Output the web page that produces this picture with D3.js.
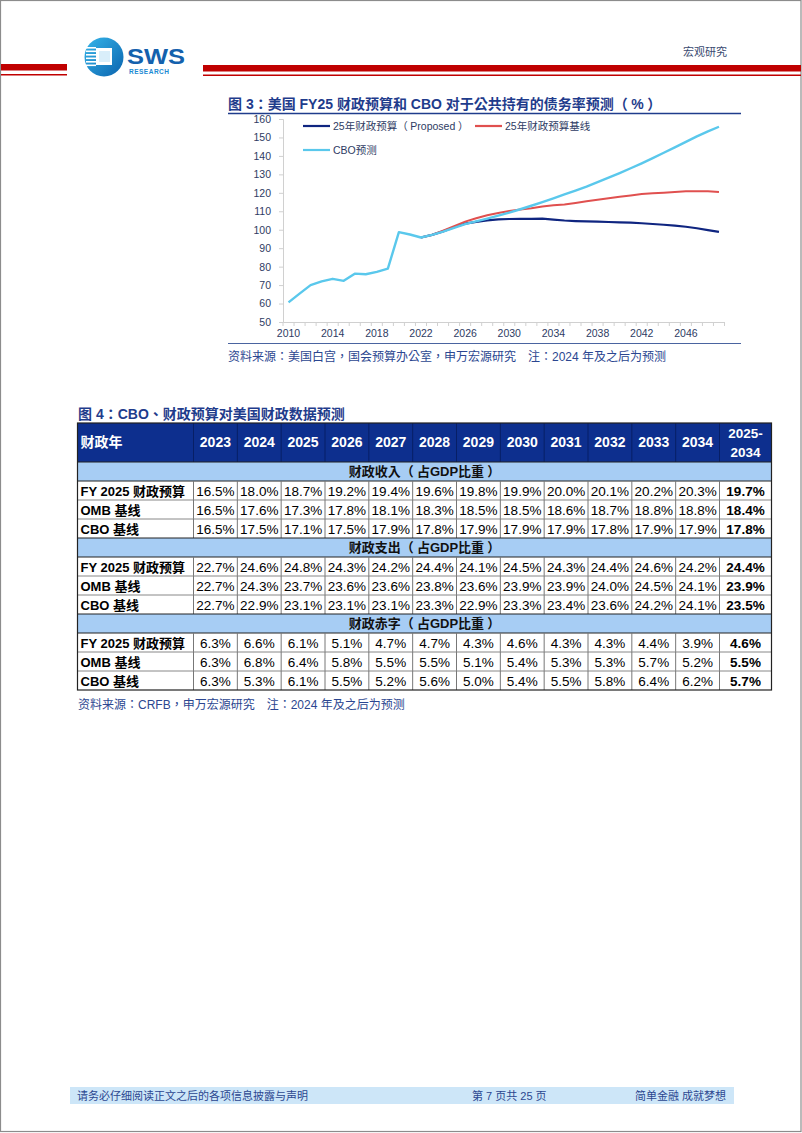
<!DOCTYPE html>
<html><head><meta charset="utf-8">
<script src="https://cdn.jsdelivr.net/npm/d3@7/dist/d3.min.js"></script>
<style>
body{margin:0;background:#fff}
svg{display:block}
text{font-family:"Liberation Sans",Arial,"Noto Sans CJK TC","Noto Sans CJK SC",sans-serif}
</style>
</head><body>
<svg id="c" width="802" height="1133"></svg>
<script>
// ---------- DATA ----------
const chartTitle = "图 3：美国 FY25 财政预算和 CBO 对于公共持有的债务率预测（%）";
const chartSource = "资料来源：美国白宫，国会预算办公室，申万宏源研究　注：2024 年及之后为预测";
const years = [2010,2011,2012,2013,2014,2015,2016,2017,2018,2019,2020,2021,2022,2023,2024,2025,2026,2027,2028,2029,
               2030,2031,2032,2033,2034,2035,2036,2037,2038,2039,2040,2041,2042,2043,2044,2045,2046,2047,2048,2049];
const xTickLabels = [2010,2014,2018,2022,2026,2030,2034,2038,2042,2046];
const yTicks = [50,60,70,80,90,100,110,120,130,140,150,160];
const seriesNames = ["25年财政预算（Proposed）","25年财政预算基线","CBO预测"];
const cboSeries = [60.6,65.4,70.0,72.0,73.4,72.3,76.2,75.9,77.2,78.9,98.7,97.4,95.8,97.2,99.0,101.0,103.0,104.5,106.0,107.6,
                   109.3,111.1,113.0,115.0,117.0,119.1,121.2,123.4,125.8,128.2,130.7,133.3,136.0,138.8,141.7,144.6,147.6,150.6,153.3,155.8];
const proposedStart = 2022;
const proposedSeries = [95.8,97.2,99.1,101.3,103.3,104.3,105.1,105.6,105.8,105.9,105.9,106.0,105.5,105.0,104.7,104.5,104.4,104.2,
                        104.0,103.8,103.5,103.1,102.7,102.2,101.6,100.8,99.8,98.8];
const baselineSeries = [95.8,97.2,99.5,101.9,104.4,106.2,107.8,109.1,110.1,110.9,111.6,112.6,113.2,113.7,114.5,115.4,116.3,117.1,
                        117.9,118.6,119.3,119.7,120.1,120.5,120.8,120.9,120.9,120.5];

const tableTitle = "图 4：CBO、财政预算对美国财政数据预测";
const tableSource = "资料来源：CRFB，申万宏源研究　注：2024 年及之后为预测";
const tableYears = ["2023","2024","2025","2026","2027","2028","2029","2030","2031","2032","2033","2034"];
const totalHeader = ["2025-","2034"];
const sectionTitles = ["财政收入（占GDP比重）","财政支出（占GDP比重）","财政赤字（占GDP比重）"];
const rowLabels = ["FY 2025 财政预算","OMB 基线","CBO 基线"];
const revenueRows = [
  [16.5,18.0,18.7,19.2,19.4,19.6,19.8,19.9,20.0,20.1,20.2,20.3,19.7],
  [16.5,17.6,17.3,17.8,18.1,18.3,18.5,18.5,18.6,18.7,18.8,18.8,18.4],
  [16.5,17.5,17.1,17.5,17.9,17.8,17.9,17.9,17.9,17.8,17.9,17.9,17.8]];
const spendingRows = [
  [22.7,24.6,24.8,24.3,24.2,24.4,24.1,24.5,24.3,24.4,24.6,24.2,24.4],
  [22.7,24.3,23.7,23.6,23.6,23.8,23.6,23.9,23.9,24.0,24.5,24.1,23.9],
  [22.7,22.9,23.1,23.1,23.1,23.3,22.9,23.3,23.4,23.6,24.2,24.1,23.5]];
const deficitRows = [
  [6.3,6.6,6.1,5.1,4.7,4.7,4.3,4.6,4.3,4.3,4.4,3.9,4.6],
  [6.3,6.8,6.4,5.8,5.5,5.5,5.1,5.4,5.3,5.3,5.7,5.2,5.5],
  [6.3,5.3,6.1,5.5,5.2,5.6,5.0,5.4,5.5,5.8,6.4,6.2,5.7]];

const headerRight = "宏观研究";
const footerTexts = ["请务必仔细阅读正文之后的各项信息披露与声明","第 7 页共 25 页","简单金融 成就梦想"];

// ---------- HELPERS ----------
// full-width parentheses drawn centred in their em box (as in the original's font)
function richText(sel, str, fs){
  const gap = fs*0.25;
  const parts = str.split(/(（|）)/).filter(s=>s!=="");
  let next = 0;
  parts.forEach(p=>{
    const t = sel.append("tspan").text(p);
    if (p==="）") t.attr("dx", gap);
    else if (next) t.attr("dx", next);
    next = (p==="（") ? gap : 0;
  });
  return sel;
}

// ---------- PAGE ----------
const svg = d3.select("#c");
const navy = "#1f3c8c";
svg.append("rect").attr("x",0.5).attr("y",0.5).attr("width",800.5).attr("height",1131)
  .attr("fill","none").attr("stroke","#8c8c8c").attr("stroke-width",1.2);

// header bars
svg.append("rect").attr("x",1).attr("y",64).attr("width",66).attr("height",6.5).attr("fill","#c00000");
svg.append("rect").attr("x",1).attr("y",74).attr("width",66).attr("height",1.5).attr("fill","#c00000");
svg.append("rect").attr("x",203).attr("y",65).attr("width",598).attr("height",6.5).attr("fill","#c00000");
svg.append("rect").attr("x",203).attr("y",74.5).attr("width",598).attr("height",1.5).attr("fill","#c00000");

// logo
const defs = svg.append("defs");
const lg = defs.append("linearGradient").attr("id","lg").attr("x1","0").attr("y1","0").attr("x2","1").attr("y2","1");
lg.append("stop").attr("offset","0").attr("stop-color","#36b6ea");
lg.append("stop").attr("offset","1").attr("stop-color","#0b63ae");
const logo = svg.append("g");
logo.append("circle").attr("cx",104).attr("cy",57).attr("r",19.5).attr("fill","url(#lg)");
[0,1,2,3,4,5].forEach(i=>{
  logo.append("rect").attr("x",86).attr("y",47+i*3.5).attr("width",10).attr("height",1.6).attr("fill","#fff");
});
logo.append("rect").attr("x",96).attr("y",48).attr("width",16).attr("height",17).attr("fill","#fff");
logo.append("rect").attr("x",99).attr("y",51).attr("width",11).attr("height",11).attr("fill","#d9eefa");
logo.append("text").attr("x",127).attr("y",63.5).attr("font-size",22).attr("font-weight","bold")
  .attr("fill","#1461ad").attr("textLength",58).attr("lengthAdjust","spacingAndGlyphs").text("SWS");
logo.append("text").attr("x",129).attr("y",74.3).attr("font-size",6.5).attr("font-weight","bold")
  .attr("fill","#1b8ad3").attr("textLength",40).text("RESEARCH");

svg.append("text").attr("x",727).attr("y",56).attr("text-anchor","end").attr("font-size",11).attr("fill","#3a4a70")
  .text(headerRight);

// ---------- CHART ----------
richText(svg.append("text").attr("x",228).attr("y",109).attr("font-size",14).attr("font-weight","bold")
  .attr("fill",navy), chartTitle, 14);
svg.append("line").attr("x1",228).attr("x2",741).attr("y1",113.5).attr("y2",113.5)
  .attr("stroke",navy).attr("stroke-width",1.5);

const x = d3.scaleBand().domain(years).range([283,724.5]).padding(0);
const y = d3.scaleLinear().domain([50,160]).range([322,119]);
const cx = d => x(d)+x.bandwidth()/2;
const axisCol = "#d0d0d0", labCol = "#2e3b63";

// y axis
const ya = svg.append("g").attr("transform","translate(283,0)")
  .call(d3.axisLeft(y).tickValues(yTicks).tickSize(4).tickPadding(8));
ya.select(".domain").attr("stroke",axisCol);
ya.selectAll(".tick line").attr("stroke",axisCol);
ya.selectAll("text").attr("font-size",10.5).attr("fill",labCol).attr("font-family",null);

// x axis
const xa = svg.append("g").attr("transform","translate(0,322)")
  .call(d3.axisBottom(x).tickValues(xTickLabels).tickSize(0).tickPadding(8));
xa.select(".domain").attr("stroke",axisCol);
xa.selectAll("text").attr("font-size",10.5).attr("fill",labCol).attr("font-family",null);
svg.append("g").selectAll("line").data(years.concat([null])).join("line")
  .attr("x1",d=> d===null ? x.range()[1] : x(d)).attr("x2",d=> d===null ? x.range()[1] : x(d))
  .attr("y1",322).attr("y2",326).attr("stroke",axisCol);

// lines
const mk = (arr, startYear) => arr.map((v,i)=>({yr:startYear+i, v}));
const line = d3.line().x(d=>cx(d.yr)).y(d=>y(d.v));
const colors = ["#0f2580","#e0504f","#5ac8ec"];
svg.append("path").datum(mk(proposedSeries,proposedStart)).attr("d",line)
  .attr("fill","none").attr("stroke",colors[0]).attr("stroke-width",2.2);
svg.append("path").datum(mk(baselineSeries,proposedStart)).attr("d",line)
  .attr("fill","none").attr("stroke",colors[1]).attr("stroke-width",2);
svg.append("path").datum(mk(cboSeries,years[0])).attr("d",line)
  .attr("fill","none").attr("stroke",colors[2]).attr("stroke-width",2.4).attr("stroke-linejoin","round");

// legend
const legPos = [[303,126],[475,126],[303,150]];
seriesNames.forEach((n,i)=>{
  const [lx,ly] = legPos[i];
  svg.append("line").attr("x1",lx).attr("x2",lx+27).attr("y1",ly).attr("y2",ly)
    .attr("stroke",colors[i]).attr("stroke-width",2.2);
  richText(svg.append("text").attr("x",lx+30).attr("y",ly+4).attr("font-size",10.5).attr("fill",labCol), n, 10.5);
});

// source
svg.append("line").attr("x1",228).attr("x2",741).attr("y1",343.5).attr("y2",343.5)
  .attr("stroke","#4a64a0").attr("stroke-width",1.2);
svg.append("text").attr("x",228).attr("y",361).attr("font-size",12).attr("fill","#2b4690").text(chartSource);

// ---------- TABLE ----------
svg.append("text").attr("x",78).attr("y",419).attr("font-size",14).attr("font-weight","bold")
  .attr("fill",navy).text(tableTitle);

const tL = 77.5, tR = 771.5, labR = 193.5, yrR = 719.5;
const colX = d3.scaleBand().domain(tableYears.concat(["total"])).range([labR, labR + (yrR-labR)/12*13]);
const colC = k => k==="total" ? (yrR+tR)/2 : colX(k)+colX.bandwidth()/2;
const headTop = 423, headBot = 462, rowH = 19;
const tbl = svg.append("g");

// header
tbl.append("rect").attr("x",tL).attr("y",headTop).attr("width",tR-tL).attr("height",headBot-headTop).attr("fill","#0d2f8e");
tbl.append("text").attr("x",tL+3).attr("y",447).attr("font-size",14).attr("font-weight","bold").attr("fill","#fff").text("财政年");
tableYears.forEach(k=>{
  tbl.append("text").attr("x",colC(k)).attr("y",447).attr("text-anchor","middle").attr("font-size",14)
    .attr("font-weight","bold").attr("fill","#fff").text(k);
});
totalHeader.forEach((t,i)=>{
  tbl.append("text").attr("x",(yrR+tR)/2).attr("y",438+i*19).attr("text-anchor","middle").attr("font-size",13.5)
    .attr("font-weight","bold").attr("fill","#fff").text(t);
});
[labR].concat(tableYears.map(k=>colX(k)+colX.bandwidth())).forEach(xx=>{
  tbl.append("line").attr("x1",xx).attr("x2",xx).attr("y1",headTop).attr("y2",headBot).attr("stroke","#071f66").attr("stroke-width",1);
});

const blocks = [revenueRows, spendingRows, deficitRows];
blocks.forEach((rows,b)=>{
  const sy = headBot + b*4*rowH;
  tbl.append("rect").attr("x",tL).attr("y",sy).attr("width",tR-tL).attr("height",rowH).attr("fill","#a7cdf4");
  richText(tbl.append("text").attr("x",(tL+tR)/2).attr("y",sy+14).attr("text-anchor","middle").attr("font-size",13)
    .attr("font-weight","bold").attr("fill","#111"), sectionTitles[b], 13);
  rows.forEach((vals,r)=>{
    const ry = sy + (r+1)*rowH;
    tbl.append("rect").attr("x",tL).attr("y",ry).attr("width",tR-tL).attr("height",rowH).attr("fill","#fff");
    tbl.append("text").attr("x",tL+3).attr("y",ry+14.5).attr("font-size",13).attr("font-weight","bold")
      .attr("fill","#000").text(rowLabels[r]);
    const keys = tableYears.concat(["total"]);
    vals.forEach((v,c)=>{
      tbl.append("text").attr("x",colC(keys[c])).attr("y",ry+14.5).attr("text-anchor","middle")
        .attr("font-size",13.5).attr("font-weight",keys[c]==="total"?"bold":"normal").attr("fill","#000")
        .text(v.toFixed(1)+"%");
    });
    tbl.append("line").attr("x1",tL).attr("x2",tR).attr("y1",ry).attr("y2",ry).attr("stroke",r===0?"#222":"#888");
    [labR].concat(tableYears.map(k=>colX(k)+colX.bandwidth())).forEach(xx=>{
      tbl.append("line").attr("x1",xx).attr("x2",xx).attr("y1",ry).attr("y2",ry+rowH).attr("stroke","#777");
    });
  });
  tbl.append("line").attr("x1",tL).attr("x2",tR).attr("y1",sy).attr("y2",sy).attr("stroke","#222");
});
tbl.append("rect").attr("x",tL).attr("y",headTop).attr("width",tR-tL).attr("height",headBot+12*rowH-headTop)
  .attr("fill","none").attr("stroke","#222").attr("stroke-width",1.2);

svg.append("text").attr("x",78).attr("y",709).attr("font-size",12).attr("fill","#2b4690").text(tableSource);

// ---------- FOOTER ----------
svg.append("rect").attr("x",70).attr("y",1087).attr("width",664).attr("height",17).attr("fill","#cde6f8");
const fpos = [77,472,635];
footerTexts.forEach((t,i)=>{
  svg.append("text").attr("x",fpos[i]).attr("y",1100).attr("font-size",11).attr("fill","#2b4690").text(t);
});
</script>
</body></html>
